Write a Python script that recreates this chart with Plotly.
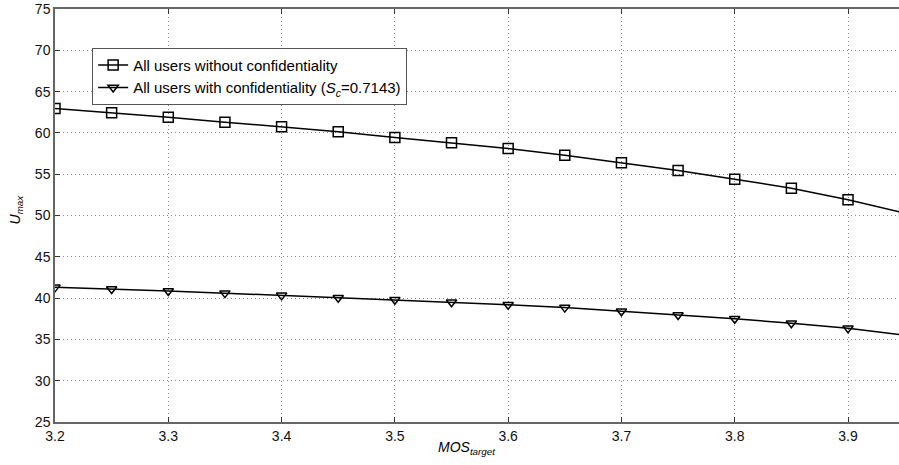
import plotly.graph_objects as go

mos_target = [3.2, 3.25, 3.3, 3.35, 3.4, 3.45, 3.5, 3.55, 3.6, 3.65, 3.7, 3.75, 3.8, 3.85, 3.9, 3.95]
u_without = [62.95, 62.45, 61.9, 61.3, 60.75, 60.15, 59.45, 58.8, 58.1, 57.3, 56.4, 55.45, 54.4, 53.3, 51.9, 50.3]
u_with = [41.3, 41.1, 40.85, 40.6, 40.33, 40.05, 39.8, 39.5, 39.2, 38.85, 38.4, 37.95, 37.5, 36.95, 36.35, 35.5]

x_ticks = [3.2, 3.3, 3.4, 3.5, 3.6, 3.7, 3.8, 3.9]
y_ticks = [25, 30, 35, 40, 45, 50, 55, 60, 65, 70, 75]

FONT = "Liberation Sans, Arial, Helvetica, sans-serif"

fig = go.Figure()
fig.add_trace(go.Scatter(
    x=mos_target, y=u_without, mode="lines+markers",
    name="All users without confidentiality",
    line=dict(color="black", width=1.5),
    marker=dict(symbol="square-open", size=10, color="black", line=dict(width=1.5)),
))
fig.add_trace(go.Scatter(
    x=mos_target, y=u_with, mode="lines+markers",
    name="All users with confidentiality (<i>S<sub>c</sub></i>=0.7143)",
    line=dict(color="black", width=1.5),
    marker=dict(symbol="triangle-down-open", size=9, color="black", line=dict(width=1.5)),
))

axis_common = dict(
    showgrid=True, gridcolor="#888888", griddash="1px,3px", gridwidth=1,
    ticks="inside", ticklen=5, tickcolor="#333333",
    showline=True, linecolor="#666666", linewidth=1.5,
    zeroline=False, automargin=False,
    tickfont=dict(family=FONT, size=14, color="#111111"),
)

fig.update_layout(
    width=899, height=465,
    margin=dict(l=55, r=0, t=9, b=43, autoexpand=False),
    paper_bgcolor="white", plot_bgcolor="white",
    font=dict(family=FONT, color="black"),
    xaxis=dict(
        range=[3.2, 3.945], tickvals=x_ticks,
        ticktext=[f"{v:.1f}" for v in x_ticks],
        mirror="ticks",
        **axis_common,
    ),
    yaxis=dict(
        range=[25, 75], tickvals=y_ticks,
        **axis_common,
    ),
    legend=dict(
        x=0.044, y=0.906, xanchor="left", yanchor="top",
        bgcolor="white", bordercolor="#555555", borderwidth=1,
        font=dict(family=FONT, size=15, color="black"),
        tracegroupgap=0, itemwidth=30,
    ),
    showlegend=True,
    annotations=[
        dict(text="<i>MOS</i><sub><i>target</i></sub>", xref="paper", yref="paper",
             x=0.488, y=-0.062, xanchor="center", yanchor="middle", showarrow=False,
             font=dict(family=FONT, size=14, color="black")),
        dict(text="<i>U</i><sub><i>max</i></sub>", xref="paper", yref="paper",
             x=-0.046, y=0.515, xanchor="center", yanchor="middle", showarrow=False,
             textangle=-90, font=dict(family=FONT, size=14, color="black")),
    ],
)

fig.write_html(
    "out.html",
    config={"displayModeBar": False},
    post_script="document.body.style.margin='0';document.body.style.overflow='hidden';",
)
